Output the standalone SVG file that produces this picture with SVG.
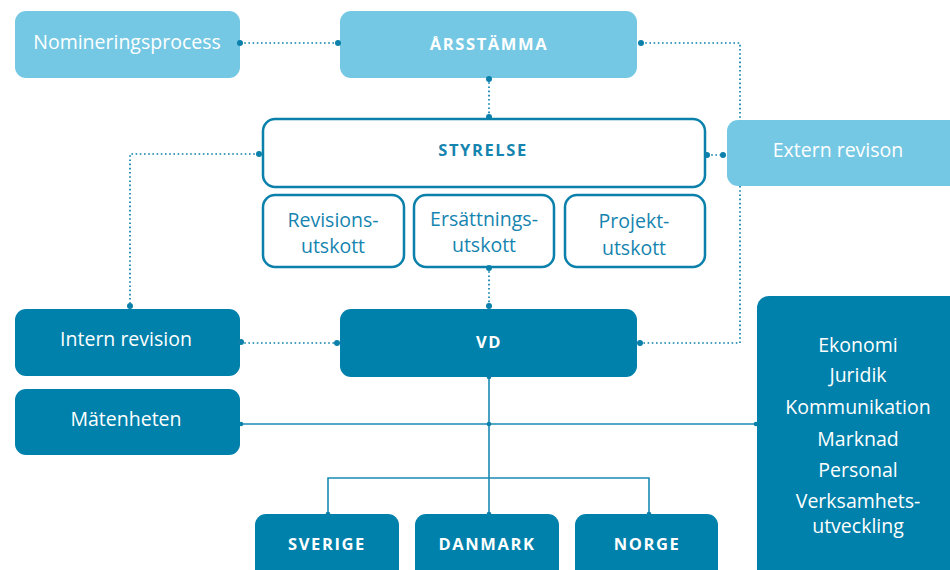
<svg xmlns="http://www.w3.org/2000/svg" width="950" height="570" viewBox="0 0 950 570">
  <style>
    .light { fill: #74c8e3; }
    .dark { fill: #0081ab; }
    .outline { fill: #ffffff; stroke: #0a80ab; stroke-width: 2.5; }
    .t { font-family: "Open Sans", "Noto Sans", "DejaVu Sans", sans-serif; font-size: 19.5px; text-anchor: middle; }
    .w { fill: #ffffff; }
    .b { fill: #1584af; }
    .cap { font-weight: bold; font-size: 16.5px; letter-spacing: 1.6px; }
    .dot { fill: none; stroke: #0a80ab; stroke-width: 1.7; stroke-dasharray: 1.6 2.6; }
    .solid { fill: none; stroke: #1a8ab4; stroke-width: 1.6; }
    .end { fill: #0a80ab; }
  </style>

  <g id="nominering">
    <rect class="light" x="15" y="11" width="225" height="67" rx="11"/>
    <text class="t w" x="127" y="49">Nomineringsprocess</text>
  </g>
  <g id="arsstamma">
    <rect class="light" x="340" y="11" width="297" height="67" rx="11"/>
    <text class="t w cap" x="489" y="50">ÅRSSTÄMMA</text>
  </g>
  <g id="styrelse">
    <rect class="outline" x="263" y="119" width="442" height="68" rx="12"/>
    <text class="t b cap" x="483" y="156">STYRELSE</text>
  </g>
  <g id="extern-revision">
    <rect class="light" x="727" y="120" width="235" height="66" rx="11"/>
    <text class="t w" x="838" y="157">Extern revison</text>
  </g>
  <g id="revisionsutskott">
    <rect class="outline" x="263" y="195" width="141" height="72" rx="12"/>
    <text class="t b" x="333" y="227">Revisions-</text>
    <text class="t b" x="333" y="253">utskott</text>
  </g>
  <g id="ersattningsutskott">
    <rect class="outline" x="414" y="195" width="140" height="72" rx="12"/>
    <text class="t b" x="484" y="226">Ersättnings-</text>
    <text class="t b" x="484" y="252">utskott</text>
  </g>
  <g id="projektutskott">
    <rect class="outline" x="565" y="195" width="140" height="72" rx="12"/>
    <text class="t b" x="634" y="228">Projekt-</text>
    <text class="t b" x="634" y="255">utskott</text>
  </g>
  <g id="intern-revision">
    <rect class="dark" x="15" y="309" width="225" height="67" rx="11"/>
    <text class="t w" x="126" y="346">Intern revision</text>
  </g>
  <g id="vd">
    <rect class="dark" x="340" y="309" width="297" height="68" rx="11"/>
    <text class="t w cap" x="489" y="348">VD</text>
  </g>
  <g id="matenheten">
    <rect class="dark" x="15" y="389" width="225" height="66" rx="11"/>
    <text class="t w" x="126" y="426">Mätenheten</text>
  </g>
  <g id="staber">
    <rect class="dark" x="757" y="296" width="210" height="290" rx="12"/>
    <text class="t w" x="858" y="352">Ekonomi</text>
    <text class="t w" x="858" y="382">Juridik</text>
    <text class="t w" x="858" y="414">Kommunikation</text>
    <text class="t w" x="858" y="446">Marknad</text>
    <text class="t w" x="858" y="477">Personal</text>
    <text class="t w" x="858" y="508">Verksamhets-</text>
    <text class="t w" x="858" y="533">utveckling</text>
  </g>
  <g id="sverige">
    <rect class="dark" x="255" y="514" width="144" height="70" rx="11"/>
    <text class="t w cap" x="327" y="550">SVERIGE</text>
  </g>
  <g id="danmark">
    <rect class="dark" x="415" y="514" width="144" height="70" rx="11"/>
    <text class="t w cap" x="487" y="550">DANMARK</text>
  </g>
  <g id="norge">
    <rect class="dark" x="575" y="514" width="143" height="70" rx="11"/>
    <text class="t w cap" x="647" y="550">NORGE</text>
  </g>

  <g id="connectors">
    <!-- dotted reporting lines -->
    <path class="dot" d="M240 43 H340"/>
    <path class="dot" d="M489 78 V118"/>
    <path class="dot" d="M641 43 H740 V120"/>
    <path class="dot" d="M740 186 V343 H641"/>
    <path class="dot" d="M707 155 H723"/>
    <path class="dot" d="M259 154 H130 V306"/>
    <path class="dot" d="M489 267 V307"/>
    <path class="dot" d="M240 343 H340"/>
    <!-- solid line organisation -->
    <path class="solid" d="M240 424 H757"/>
    <path class="solid" d="M489 377 V514"/>
    <path class="solid" d="M328 514 V478 H649 V514"/>
    <!-- end points -->
    <circle class="end" cx="240" cy="43" r="3"/>
    <circle class="end" cx="338" cy="43" r="3"/>
    <circle class="end" cx="641" cy="43" r="3"/>
    <circle class="end" cx="489" cy="79" r="3"/>
    <circle class="end" cx="489" cy="117" r="3"/>
    <circle class="end" cx="259" cy="154" r="3"/>
    <circle class="end" cx="707" cy="155" r="3"/>
    <circle class="end" cx="723" cy="155" r="3"/>
    <circle class="end" cx="130" cy="306" r="3"/>
    <circle class="end" cx="489" cy="268" r="3"/>
    <circle class="end" cx="489" cy="306" r="3"/>
    <circle class="end" cx="241" cy="342" r="3"/>
    <circle class="end" cx="337" cy="343" r="3"/>
    <circle class="end" cx="640" cy="343" r="3"/>
    <circle class="end" cx="241" cy="424" r="2.3"/>
    <circle class="end" cx="489" cy="424" r="2.3"/>
    <circle class="end" cx="756" cy="424" r="2.3"/>
    <circle class="end" cx="489" cy="377" r="2.3"/>
    <circle class="end" cx="489" cy="514" r="2.3"/>
    <circle class="end" cx="328" cy="514" r="2.3"/>
    <circle class="end" cx="649" cy="514" r="2.3"/>
  </g>
</svg>
